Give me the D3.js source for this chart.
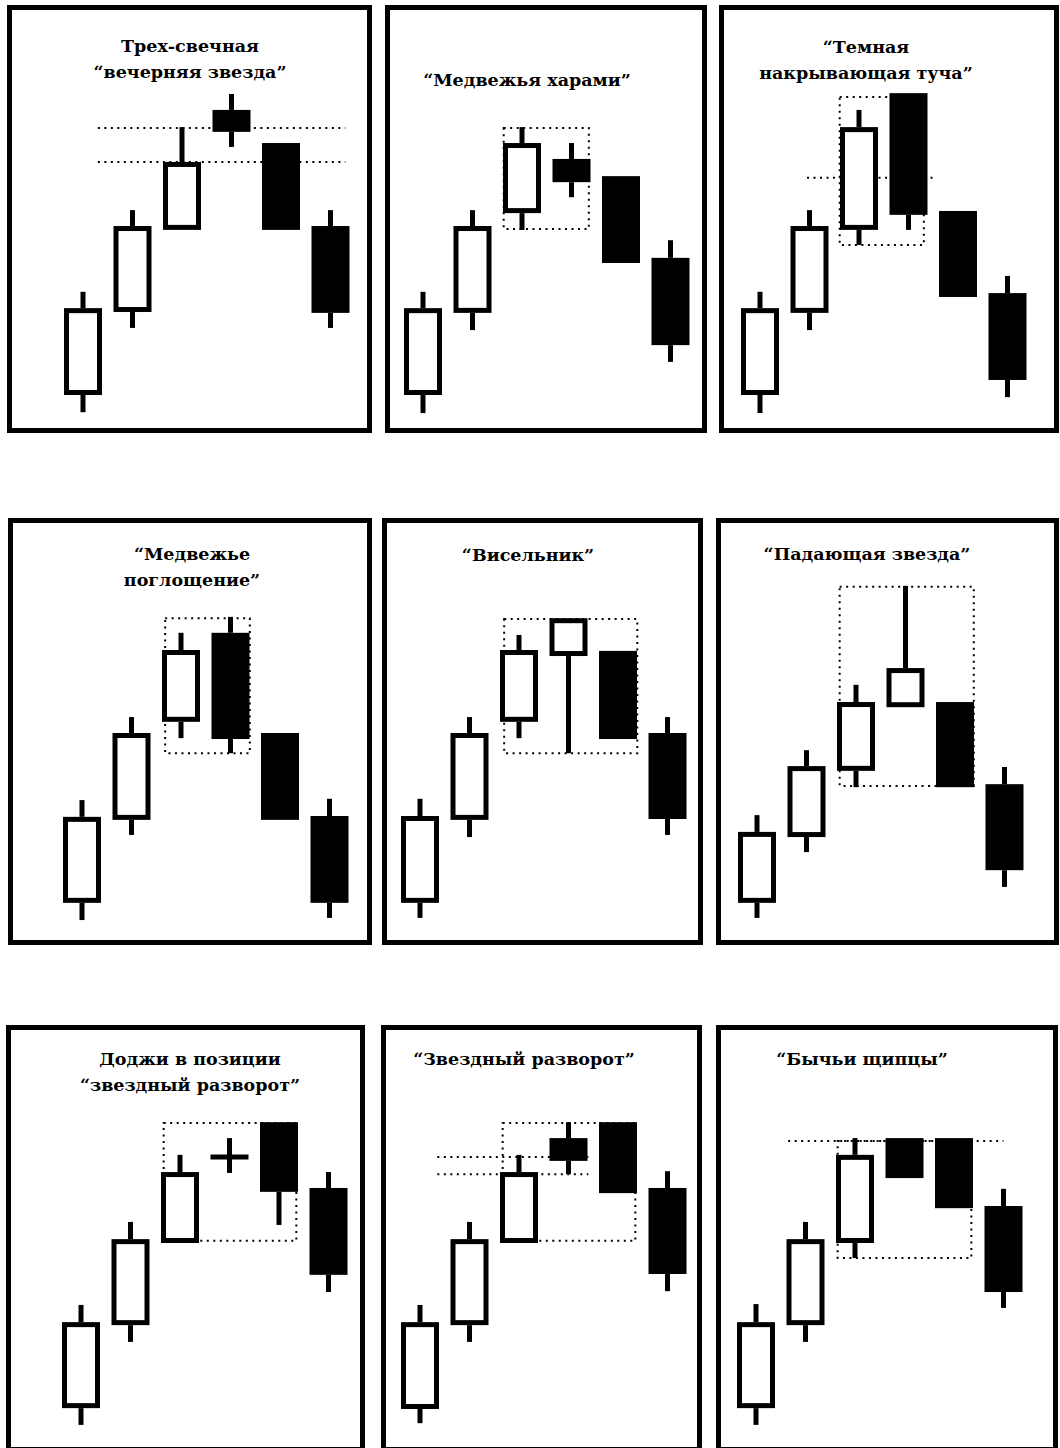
<!DOCTYPE html>
<html>
<head>
<meta charset="utf-8">
<script src="https://cdn.jsdelivr.net/npm/d3@7"></script>
<style>
body { margin: 0; background: white; }
svg { display: block; }
</style>
</head>
<body>
<svg></svg>
<script>
var WIDTH = 1060,
    HEIGHT = 1448,
    BODY_W = 38,
    SPACING = 49.5,
    LINE_W = 5,
    BORDER_W = 5,
    INK = "black",
    PAPER = "white";

// panel titles, one entry per line
var TITLES = [
    ["Трех-свечная", "“вечерняя звезда”"],
    ["“Медвежья харами”"],
    ["“Темная", "накрывающая туча”"],
    ["“Медвежье", "поглощение”"],
    ["“Висельник”"],
    ["“Падающая звезда”"],
    ["Доджи в позиции", "“звездный разворот”"],
    ["“Звездный разворот”"],
    ["“Бычьи щипцы”"]
];

// six candles per panel
var OPEN = [
    [9.3, 28.6, 47.7, 75.6, 67.9, 48.6],
    [9.3, 28.4, 51.6, 64.2, 60.2, 41.2],
    [9.3, 28.4, 47.7, 79.5, 52.1, 33.0],
    [10.5, 29.8, 52.6, 73.3, 50.0, 30.7],
    [10.5, 29.8, 52.6, 67.9, 69.1, 50.0],
    [10.5, 25.8, 41.2, 56.0, 57.2, 38.1],
    [10.9, 30.2, 49.3, 69.3, 77.4, 62.1],
    [10.7, 30.2, 49.3, 73.7, 77.4, 62.1],
    [10.9, 30.2, 49.3, 73.7, 73.7, 57.9]
];
var HIGH = [
    [33.3, 52.3, 71.6, 79.3, 67.9, 52.3],
    [33.3, 52.3, 71.6, 67.9, 60.2, 45.3],
    [33.3, 52.3, 75.6, 79.5, 52.1, 37.0],
    [34.4, 53.7, 73.3, 77.0, 50.0, 34.7],
    [34.7, 53.7, 72.8, 76.7, 69.1, 53.7],
    [30.9, 46.0, 61.2, 84.2, 57.2, 42.1],
    [34.9, 54.2, 69.8, 73.7, 77.4, 65.8],
    [34.9, 54.2, 69.8, 77.4, 77.4, 66.0],
    [35.1, 54.2, 73.7, 73.7, 73.7, 61.9]
];
var LOW = [
    [5.3, 24.9, 47.7, 67.0, 47.7, 24.9],
    [5.1, 24.4, 47.7, 55.3, 40.0, 17.0],
    [5.1, 24.4, 44.2, 47.7, 32.1, 8.8],
    [6.5, 26.3, 48.8, 45.3, 29.8, 7.0],
    [7.0, 25.8, 48.8, 45.3, 48.6, 26.3],
    [7.0, 22.3, 37.4, 56.0, 37.4, 14.2],
    [7.0, 26.3, 49.3, 65.6, 53.5, 37.9],
    [7.4, 26.3, 49.3, 65.3, 60.9, 38.1],
    [7.0, 26.3, 45.8, 64.4, 57.4, 34.2]
];
var CLOSE = [
    [29.5, 48.6, 63.5, 70.5, 47.7, 28.4],
    [29.5, 48.6, 67.9, 58.8, 40.0, 20.9],
    [29.5, 48.6, 71.6, 51.2, 32.1, 12.8],
    [30.5, 50.0, 69.3, 48.6, 29.8, 10.5],
    [30.7, 50.0, 69.3, 76.7, 48.6, 30.0],
    [27.0, 42.3, 57.2, 65.1, 37.4, 18.1],
    [30.9, 50.2, 65.8, 69.3, 61.2, 41.9],
    [30.9, 50.2, 65.8, 68.4, 60.9, 42.1],
    [30.9, 50.2, 69.8, 64.4, 57.4, 37.9]
];

// dotted guides: [from candle, to candle, price]
var GUIDE_LINES = [
    [[0.3, 5.3, 71.4], [0.3, 5.3, 63.5]],
    [],
    [[0.95, 3.55, 59.8]],
    [],
    [],
    [],
    [],
    [[0.35, 3.4, 69.3], [0.35, 3.4, 65.3]],
    [[0.65, 5.0, 73.0]]
];
// dotted boxes: [from candle, to candle, top price, bottom price]
var GUIDE_BOXES = [
    [],
    [[1.63, 3.35, 71.4, 47.9]],
    [[1.61, 3.31, 78.6, 44.2]],
    [[1.68, 3.39, 76.7, 45.3]],
    [[1.70, 4.39, 76.5, 45.3]],
    [[1.67, 4.38, 84.0, 37.7]],
    [[1.67, 4.35, 77.2, 49.8]],
    [[1.67, 4.35, 77.2, 49.8]],
    [[1.65, 4.35, 73.0, 45.8]]
];

// panel frames (outer edges), first candle centre, title anchor
var LAYOUT = [
    {x0: 7, y0: 5, x1: 372, y1: 433, first: 83, tx: 190, ty: 52},
    {x0: 385, y0: 5, x1: 707, y1: 433, first: 423, tx: 527, ty: 86},
    {x0: 719, y0: 5, x1: 1059, y1: 433, first: 760, tx: 866, ty: 53},
    {x0: 8, y0: 518, x1: 372, y1: 945, first: 82, tx: 192, ty: 560},
    {x0: 382, y0: 518, x1: 703, y1: 945, first: 420, tx: 528, ty: 561},
    {x0: 716, y0: 518, x1: 1059, y1: 945, first: 757, tx: 867, ty: 560},
    {x0: 6, y0: 1025, x1: 365, y1: 1452, first: 81, tx: 190, ty: 1065},
    {x0: 381, y0: 1025, x1: 702, y1: 1452, first: 420, tx: 524, ty: 1065},
    {x0: 716, y0: 1025, x1: 1058, y1: 1452, first: 756, tx: 862, ty: 1065}
];

var svg = d3.select("svg")
    .attr("width", WIDTH)
    .attr("height", HEIGHT)
    .style("background", PAPER);

function drawPanel(p) {
    var L = LAYOUT[p];
    var g = svg.append("g").attr("class", "panel");

    var x = d3.scaleLinear()
        .domain([0, 5])
        .range([L.first, L.first + 5 * SPACING]);
    var y = d3.scaleLinear()
        .domain([0, 100])
        .range([L.y0 + 430, L.y0]);

    g.append("rect")
        .attr("x", L.x0 + BORDER_W / 2)
        .attr("y", L.y0 + BORDER_W / 2)
        .attr("width", L.x1 - L.x0 - BORDER_W)
        .attr("height", L.y1 - L.y0 - BORDER_W)
        .style("fill", PAPER)
        .style("stroke", INK)
        .style("stroke-width", BORDER_W);

    g.selectAll(".title")
        .data(TITLES[p])
      .enter().append("text")
        .attr("class", "title")
        .attr("x", L.tx)
        .attr("y", function(d, i) { return L.ty + i * 26; })
        .style("font-family", "'DejaVu Serif', serif")
        .style("font-weight", "bold")
        .style("font-size", "17.5px")
        .style("fill", INK)
        .style("text-anchor", "middle")
        .text(function(d) { return d; });

    // guides go under the candles
    g.selectAll(".guide-line")
        .data(GUIDE_LINES[p])
      .enter().append("line")
        .attr("class", "guide-line")
        .attr("x1", function(d) { return x(d[0]); })
        .attr("x2", function(d) { return x(d[1]); })
        .attr("y1", function(d) { return y(d[2]); })
        .attr("y2", function(d) { return y(d[2]); })
        .style("stroke", INK)
        .style("stroke-width", 2)
        .style("stroke-dasharray", "2,4.5");
    g.selectAll(".guide-box")
        .data(GUIDE_BOXES[p])
      .enter().append("rect")
        .attr("class", "guide-box")
        .attr("x", function(d) { return x(d[0]); })
        .attr("y", function(d) { return y(d[2]); })
        .attr("width", function(d) { return x(d[1]) - x(d[0]); })
        .attr("height", function(d) { return y(d[3]) - y(d[2]); })
        .style("fill", "none")
        .style("stroke", INK)
        .style("stroke-width", 2)
        .style("stroke-dasharray", "2,4.5");

    var candles = d3.range(6).map(function(i) {
        return {i: i, o: OPEN[p][i], h: HIGH[p][i], l: LOW[p][i], c: CLOSE[p][i]};
    });

    var c = g.selectAll(".candle")
        .data(candles)
      .enter().append("g")
        .attr("class", "candle");

    // upper and lower shadows
    c.append("line")
        .attr("x1", function(d) { return x(d.i); })
        .attr("x2", function(d) { return x(d.i); })
        .attr("y1", function(d) { return y(d.h); })
        .attr("y2", function(d) { return y(Math.max(d.o, d.c)); })
        .style("stroke", INK)
        .style("stroke-width", LINE_W);
    c.append("line")
        .attr("x1", function(d) { return x(d.i); })
        .attr("x2", function(d) { return x(d.i); })
        .attr("y1", function(d) { return y(Math.min(d.o, d.c)); })
        .attr("y2", function(d) { return y(d.l); })
        .style("stroke", INK)
        .style("stroke-width", LINE_W);

    // bodies: hollow when close > open, solid when falling, a bar for doji
    c.append("rect")
        .attr("x", function(d) {
            return x(d.i) - BODY_W / 2 + (d.c > d.o ? LINE_W / 2 : 0);
        })
        .attr("y", function(d) {
            var top = y(Math.max(d.o, d.c));
            if (d.c === d.o) return top - LINE_W / 2;
            return top + (d.c > d.o ? LINE_W / 2 : 0);
        })
        .attr("width", function(d) { return BODY_W - (d.c > d.o ? LINE_W : 0); })
        .attr("height", function(d) {
            var h = y(Math.min(d.o, d.c)) - y(Math.max(d.o, d.c));
            if (d.c === d.o) return LINE_W;
            return h - (d.c > d.o ? LINE_W : 0);
        })
        .style("fill", function(d) { return d.c > d.o ? PAPER : INK; })
        .style("stroke", function(d) { return d.c > d.o ? INK : "none"; })
        .style("stroke-width", LINE_W);
}

d3.range(9).forEach(drawPanel);
</script>
</body>
</html>
